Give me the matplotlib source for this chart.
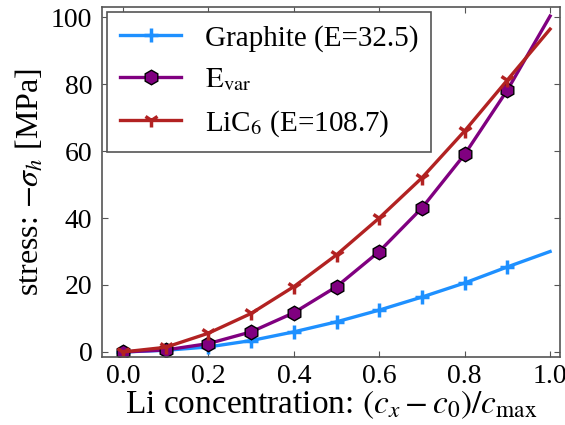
import matplotlib
matplotlib.use("Agg")
import matplotlib.pyplot as plt

plt.rcParams.update({
    "font.family": ["Liberation Serif", "DejaVu Serif"],
    "mathtext.fontset": "stix",
    "font.size": 20,
    "xtick.direction": "in",
    "ytick.direction": "in",
    "xtick.top": True,
    "ytick.right": True,
    "xtick.major.size": 4,
    "ytick.major.size": 4,
    "xtick.major.pad": 5,
    "ytick.major.pad": 7,
})

# Li fraction (c_x - c_0)/c_max
conc = [0.0, 0.1, 0.2, 0.3, 0.4, 0.5, 0.6, 0.7, 0.8, 0.9, 1.0]
# hydrostatic stress -sigma_h [MPa]
graphite = [0.0, 0.5, 1.5, 3.4, 6.0, 9.0, 12.5, 16.4, 20.6, 25.4, 30.0]
e_var = [0.0, 0.6, 2.5, 6.0, 11.7, 19.5, 30.0, 43.0, 59.0, 78.2, 100.3]
lic6 = [0.0, 1.4, 5.6, 11.5, 19.5, 29.0, 40.0, 52.0, 66.0, 81.2, 96.4]

labels = ["Graphite (E=32.5)", r"$\mathrm{E_{var}}$", r"LiC$_6$ (E=108.7)"]
colors = ["#1e90ff", "#800080", "#b22222"]

fig = plt.figure(figsize=(5.65, 4.25), dpi=100)
ax = fig.add_axes([0.1805, 0.16, 0.8105, 0.8235])

marks = slice(0, 10)
ax.plot(conc, graphite, color=colors[0], lw=2.4, marker="+", ms=10, mew=2.5,
        markevery=marks, label=labels[0])
ax.plot(conc, e_var, color=colors[1], lw=2.4, marker="h", ms=10.5, mew=1,
        mfc=colors[1], mec="black", markevery=marks, label=labels[1])
ax.plot(conc, lic6, color=colors[2], lw=2.4, marker="1", ms=10.5, mew=2.5,
        markevery=marks, label=labels[2])

ax.set_xlim(-0.049, 1.023)
ax.set_ylim(-1.5, 103)
ax.set_xticks([0.0, 0.2, 0.4, 0.6, 0.8, 1.0])
ax.set_yticks([0, 20, 40, 60, 80, 100])

for s in ax.spines.values():
    s.set_color("#555555")
    s.set_linewidth(1.2)
ax.tick_params(color="#555555")

ax.set_xlabel(r"Li concentration: $(c_x - c_0)/c_\mathrm{max}$", fontsize=24,
              labelpad=0)
ax.set_ylabel(r"stress: $-\sigma_h$ [MPa]", fontsize=23, labelpad=4)

leg = ax.legend(loc="upper left", fontsize=21, fancybox=False, framealpha=1,
                borderpad=0.45, handlelength=2.1, handletextpad=0.8,
                labelspacing=0.5, borderaxespad=0.17)
leg.get_frame().set_edgecolor("#555555")
leg.get_frame().set_linewidth(1.2)

fig.savefig("out.png", dpi=100)
